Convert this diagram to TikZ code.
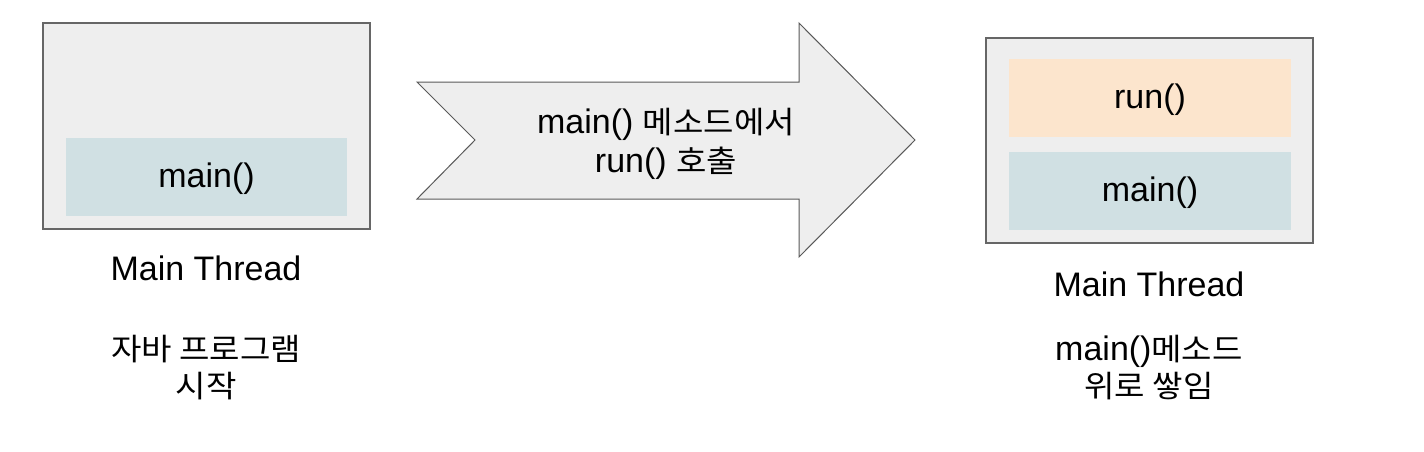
\documentclass[tikz,border=0pt]{standalone}
\usepackage{fontspec}
\setmainfont{Liberation Sans}
\newfontfamily\kr[Scale=0.9,FakeStretch=1.08]{Noto Sans CJK KR}
\definecolor{panelfill}{HTML}{EEEEEE}
\definecolor{panelline}{HTML}{666666}
\definecolor{mainfill}{HTML}{D0E0E3}
\definecolor{runfill}{HTML}{FCE5CD}
\definecolor{arrowline}{HTML}{595959}
\tikzset{
  panel/.style={draw=panelline, fill=panelfill, line width=1.3pt, minimum width=327pt, inner sep=0pt},
  frame/.style={draw=none, minimum width=281pt, minimum height=78pt, inner sep=0pt,
    text height=28pt, text depth=8pt, font=\fontsize{34}{37}\selectfont},
  label/.style={inner sep=0pt, align=center, font=\fontsize{34}{37}\selectfont},
}
\begin{document}
\begin{tikzpicture}[x=1pt,y=-1pt]
\useasboundingbox (0,0) rectangle (1424,452);
% left panel
\node[panel, minimum height=206pt] (lpanel) at (206.5,126) {};
\node[frame, fill=mainfill] (lmain) at (206.5,177) {main()};
\node[label, anchor=base] (lthread) at (206,280) {Main Thread};
\node[label, anchor=base] (lstart) at (206,397) {{\kr 자바 프로그램}\\{\kr 시작}};
% arrow
\draw[draw=arrowline, fill=panelfill, line width=1pt, line join=miter]
  (417,82) -- (799,82) -- (799,23) -- (915,140) -- (799,257) -- (799,199) -- (417,199) -- (475,140) -- cycle;
\node[label, anchor=base, font=\fontsize{34}{39}\selectfont] (call) at (666,172) {main() {\kr 메소드에서}\\run() {\kr 호출}};
% right panel
\node[panel, minimum height=205pt] (rpanel) at (1149.5,140.5) {};
\node[frame, fill=runfill, minimum width=282pt] (rrun) at (1150,98) {run()};
\node[frame, fill=mainfill, minimum width=282pt] (rmain) at (1150,191) {main()};
\node[label, anchor=base] (rthread) at (1149,296) {Main Thread};
\node[label, anchor=base] (rstack) at (1149,397) {main(){\kr 메소드}\\{\kr 위로 쌓임}};
\end{tikzpicture}
\end{document}
